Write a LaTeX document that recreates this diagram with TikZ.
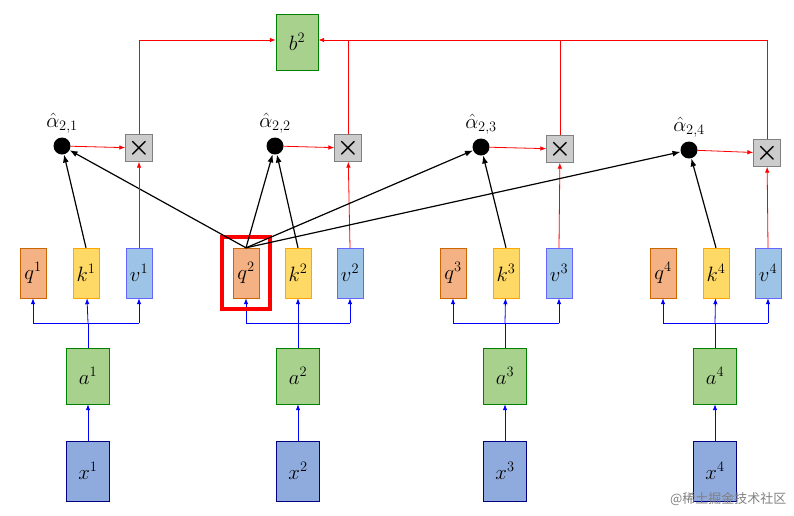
\documentclass[tikz,border=0pt]{standalone}
\usepackage{amsmath,amssymb}
\usepackage{fontspec}
\newfontfamily\cjk{Noto Sans CJK SC}
\usetikzlibrary{arrows.meta, positioning, calc}
\definecolor{qfill}{HTML}{F4B183}
\definecolor{kfill}{HTML}{FFD966}
\definecolor{vfill}{HTML}{9DC3E6}
\definecolor{afill}{HTML}{A9D18E}
\definecolor{xfill}{HTML}{8FAADC}

\begin{document}
\begin{tikzpicture}[x=1pt, y=-1pt,
      big/.style={font=\fontsize{21}{24}\selectfont},
      qbox/.style={big, draw=orange!80!black, fill=qfill, minimum width=26pt, minimum height=50pt, inner sep=0pt},
      kbox/.style={big, draw=orange!70!yellow, fill=kfill, minimum width=26pt, minimum height=50pt, inner sep=0pt},
      vbox/.style={big, draw=blue!60, fill=vfill, minimum width=26pt, minimum height=50pt, inner sep=0pt},
      abox/.style={big, draw=green!50!black, fill=afill, minimum width=43pt, minimum height=56pt, inner sep=0pt},
      xbox/.style={big, draw=blue!50!black, fill=xfill, minimum width=43pt, minimum height=60pt, inner sep=0pt},
      dot/.style={circle, fill=black, minimum size=17pt, inner sep=0pt},
      mult/.style={draw=gray, fill=gray!40, minimum width=27pt, minimum height=27pt, inner sep=0pt, font=\fontsize{26}{28}\selectfont\bfseries},
      bluearrow/.style={-{Latex[length=6pt]}, blue, thick},
      redarrow/.style={-{Latex[length=6pt]}, red, thick},
      blackarrow/.style={-{Latex[length=8pt]}, black, line width=1.2pt} ]
    \useasboundingbox (0,0) rectangle (794,515);

    % Inputs, embeddings and q, k, v
    \foreach \i/\q/\k/\v/\a in {1/33/86/139/88, 2/246/298/350/298, 3/453/506/559/505, 4/663/716/768/715}{
      \node[xbox] (x\i) at (\a,471) {$x^{\i}$};
      \node[abox] (a\i) at (\a,376) {$a^{\i}$};
      \node[qbox] (q\i) at (\q,273) {$q^{\i}$};
      \node[kbox] (k\i) at (\k,273) {$k^{\i}$};
      \node[vbox] (v\i) at (\v,273) {$v^{\i}$};
      \coordinate (s\i) at (\a,323);
      \draw[bluearrow] (x\i) -- (a\i);
      \draw[blue, thick] (a\i) -- (s\i) (q\i.south |- s\i) -- (v\i.south |- s\i);
      \draw[bluearrow] (s\i) -- (k\i);
      \draw[bluearrow] (q\i.south |- s\i) -- (q\i);
      \draw[bluearrow] (v\i.south |- s\i) -- (v\i);
    }

    % Highlight of q2
    \node[draw=red, line width=4.5pt, minimum width=48pt, minimum height=72pt] (hl) at (q2) {};

    % Attention scores and products
    \foreach \i/\ax/\ay/\mx/\my in {1/62/146/139/148, 2/275/146/348/148, 3/481/147/560/149, 4/689/150/767/153}{
      \node[dot] (al\i) at (\ax,\ay) {};
      \node[big, above=0pt of al\i] {$\hat{\alpha}_{2,\i}$};
      \node[mult] (m\i) at (\mx,\my) {$\boldsymbol{\times}$};
      \draw[blackarrow] (q2.north) -- (al\i);
      \draw[blackarrow] (k\i.north) -- (al\i);
      \draw[redarrow] (al\i) -- (m\i);
      \draw[redarrow] (v\i.north) -- (m\i);
    }

    % Output
    \node[big, draw=green!50!black, fill=afill, minimum width=42pt, minimum height=56pt, inner sep=0pt] (b) at (297,42) {$b^{2}$};
    \coordinate (t1) at (139,40); \coordinate (t4) at (767,40);
    \draw[red, thick] (m1) -- (t1);
    \draw[redarrow] (t1) -- (t1 -| b.west);
    \draw[red, thick] (m4) -- (t4);
    \draw[redarrow] (t4) -- (t4 -| b.east);
    \draw[red, thick] (m2) -- (m2 |- t4);
    \draw[red, thick] (m3) -- (m3 |- t4);

    \node[text=gray, font=\cjk\fontsize{13}{15}\selectfont, anchor=east] (wm) at (790,499) {@稀土掘金技术社区};
\end{tikzpicture}
\end{document}
